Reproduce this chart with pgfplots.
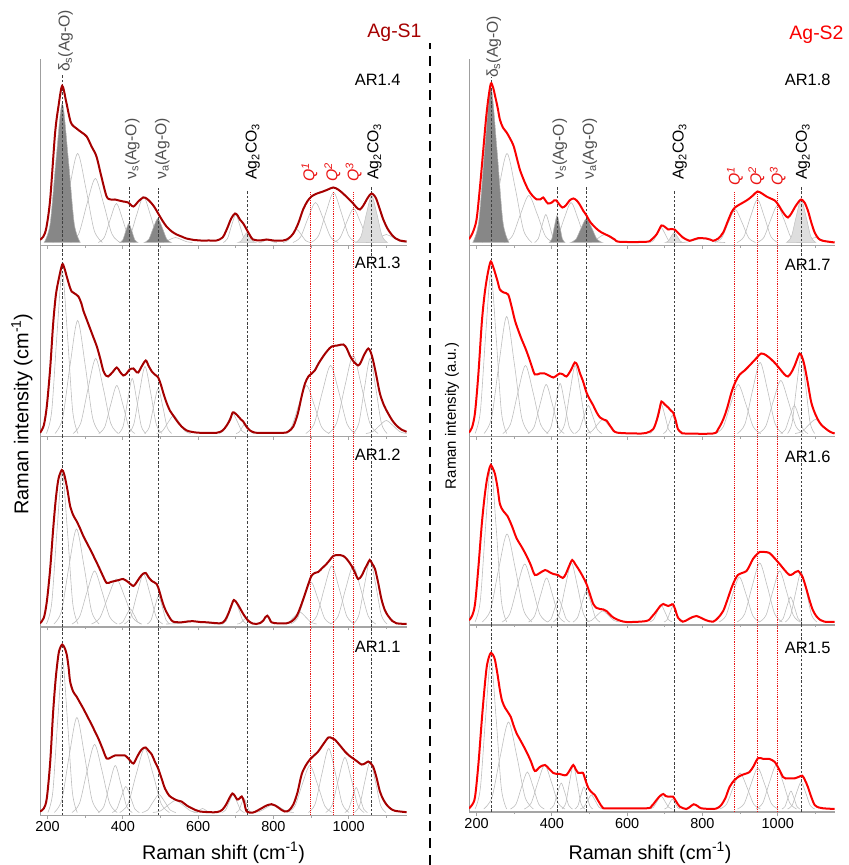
\documentclass[border=0pt]{standalone}
\usepackage{fontspec}
\setmainfont{Liberation Sans}
\usepackage{pgfplots}
\pgfplotsset{compat=1.18}
\definecolor{sone}{RGB}{165,0,0}
\definecolor{stwo}{RGB}{250,0,0}
\definecolor{compc}{RGB}{190,190,190}
\definecolor{darkf}{RGB}{135,135,135}
\definecolor{lightf}{RGB}{222,222,222}
\definecolor{annot}{RGB}{80,80,80}
\definecolor{qred}{RGB}{235,20,20}
\definecolor{axc}{RGB}{165,165,165}
\tikzset{
 vl/.style={draw=black!75, line width=0.6bp, dash pattern=on 2.5bp off 1.8bp},
 ql/.style={draw=qred, line width=0.6bp, dash pattern=on 1.2bp off 1bp},
 ann/.style={rotate=90, anchor=west, inner sep=0.5bp, font=\fontsize{15.8}{18}\selectfont},
}
\pgfplotsset{
 panel/.style={scale only axis, anchor=south west, axis x line*=bottom, axis y line*=left,
  xmin=180, ymin=-3, ytick=\empty, xtick={200,400,600,800,1000}, minor xtick={300,500,700,900,1100},
  tick align=outside, major tick length=3.5bp, minor tick length=2.2bp, xticklabels={},
  x axis line style={draw=axc, line width=1.3bp, -}, y axis line style={draw=gray!75, line width=0.7bp, -},
  tick style={draw=axc, line width=0.7bp}, clip mode=individual},
 bottompanel/.style={xticklabels={200,400,600,800,1000}, xticklabel style={font=\fontsize{14.5}{16}\selectfont, inner sep=2.5bp}},
 comp/.style={draw=compc, line width=0.6bp, smooth, no markers},
 dfill/.style={fill=darkf, draw=gray!60, line width=0.5bp, smooth, no markers},
 lfill/.style={fill=lightf, draw=gray!50, line width=0.5bp, smooth, no markers},
 envA/.style={draw=sone, line width=2bp, smooth, tension=0.5, no markers},
 envB/.style={draw=stwo, line width=2bp, smooth, tension=0.5, no markers},
}
\newcommand{\C}[1]{\addplot[comp] coordinates {#1};}
\newcommand{\LV}[1]{%
 \draw[vl] (axis cs:239,-3) -- (axis cs:239,#1);
 \draw[vl] (axis cs:416,-3) -- (axis cs:416,#1);
 \draw[vl] (axis cs:493,-3) -- (axis cs:493,#1);
 \draw[vl] (axis cs:730,-3) -- (axis cs:730,#1);
 \draw[vl] (axis cs:1061,-3) -- (axis cs:1061,#1);
 \draw[ql] (axis cs:897,-3) -- (axis cs:897,#1);
 \draw[ql] (axis cs:959,-3) -- (axis cs:959,#1);
 \draw[ql] (axis cs:1013,-3) -- (axis cs:1013,#1);}
\newcommand{\RV}[1]{%
 \draw[vl] (axis cs:238,-3) -- (axis cs:238,#1);
 \draw[vl] (axis cs:415,-3) -- (axis cs:415,#1);
 \draw[vl] (axis cs:492,-3) -- (axis cs:492,#1);
 \draw[vl] (axis cs:725,-3) -- (axis cs:725,#1);
 \draw[vl] (axis cs:1062,-3) -- (axis cs:1062,#1);
 \draw[ql] (axis cs:884,-3) -- (axis cs:884,#1);
 \draw[ql] (axis cs:946,-3) -- (axis cs:946,#1);
 \draw[ql] (axis cs:999,-3) -- (axis cs:999,#1);}
\begin{document}
\begin{tikzpicture}
\path[use as bounding box] (0,0) rectangle (849bp,865bp);
% ================= LEFT COLUMN (Ag-S1) =================
% AR1.4
\begin{axis}[panel, at={(40bp,619.5bp)}, width=367bp, height=186.5bp, xmax=1155, ymax=183.5]
\C{(214,0)(236,12)(258,54)(280,89)(302,54)(324,12)(346,0)}
\C{(261,0)(283,8.6)(305,38.8)(327,64)(349,38.8)(371,8.6)(393,0)}
\C{(335,0)(351,5.3)(367,23.7)(383,39)(399,23.7)(415,5.3)(431,0)}
\C{(401,0)(419,6.2)(437,27.9)(455,46)(473,27.9)(491,6.2)(509,0)}
\C{(495,0)(510,0.7)(525,3)(540,5)(555,3)(570,0.7)(585,0)}
\C{(667,0)(678,3.8)(689,17)(700,28)(711,17)(722,3.8)(733,0)}
\C{(761,0)(769,0.4)(777,1.8)(785,3)(793,1.8)(801,0.4)(809,0)}
\C{(826,0)(838,1.8)(850,7.9)(862,13)(874,7.9)(886,1.8)(898,0)}
\C{(852,0)(872,5.4)(892,24.3)(912,40)(932,24.3)(952,5.4)(972,0)}
\C{(900,0)(920,6.8)(940,30.4)(960,50)(980,30.4)(1000,6.8)(1020,0)}
\C{(959,0)(977,4.6)(995,20.6)(1013,34)(1031,20.6)(1049,4.6)(1067,0)}
\C{(1046,0)(1064,1.1)(1082,4.9)(1100,8)(1118,4.9)(1136,1.1)(1154,0)}
\addplot[dfill] coordinates {(191,0)(207,18.8)(223,84.4)(239,139)(255,84.4)(271,18.8)(287,0)} \closedcycle;
\addplot[dfill] coordinates {(392,0)(400,2.6)(408,11.5)(416,19)(424,11.5)(432,2.6)(440,0)} \closedcycle;
\addplot[dfill] coordinates {(457,0)(469,3.2)(481,14.6)(493,24)(505,14.6)(517,3.2)(529,0)} \closedcycle;
\addplot[lfill] coordinates {(706,0)(714,1.4)(722,6.1)(730,10)(738,6.1)(746,1.4)(754,0)} \closedcycle;
\addplot[lfill] coordinates {(1019,0)(1033,6.3)(1047,28.5)(1061,47)(1075,28.5)(1089,6.3)(1103,0)} \closedcycle;
\draw[vl] (axis cs:239,-3) -- (axis cs:239,168);
\draw[vl] (axis cs:416,-3) -- (axis cs:416,55);
\draw[vl] (axis cs:493,-3) -- (axis cs:493,54);
\draw[vl] (axis cs:730,-3) -- (axis cs:730,51);
\draw[vl] (axis cs:1061,-3) -- (axis cs:1061,56);
\draw[ql] (axis cs:897,-3) -- (axis cs:897,50);
\draw[ql] (axis cs:959,-3) -- (axis cs:959,50);
\draw[ql] (axis cs:1013,-3) -- (axis cs:1013,50);
\addplot[envA] coordinates {(180,2.7)(189,6)(197,15)(207,43)(220,109)(229,136)(239,156.7)(250,140)(262,120)(277,114)(291,110)(304,106)(317,96)(330,86)(343,66)(357,46)(368,43)(379,43)(390,42)(401,41)(414,40)(428,36)(441,41)(454,45)(463,44)(472,41)(483,36)(494,29)(505,22)(516,16)(530,11)(543,8)(556,6)(569,4)(590,2.5)(605,2)(630,2)(649,2)(665,5)(676,13)(688,24)(698,29)(705,27)(711,23)(720,19)(729,13)(738,7)(746,3)(765,2)(782,3)(800,2)(826,2)(840,4)(853,9)(866,19)(879,33)(890,41)(901,46)(916,49)(932,51)(945,53)(959,55)(972,53)(985,49)(999,44)(1012,39)(1021,35)(1030,33)(1039,37)(1048,43)(1055,47)(1061,49)(1068,47)(1074,43)(1083,33)(1092,23)(1103,14)(1114,8)(1125,4)(1136,2)(1154,1)};
\node[ann, text=annot] at (axis cs:248,170) {δ\textsubscript{s}(Ag-O)};
\node[ann, text=annot] at (axis cs:425,62) {ν\textsubscript{s}(Ag-O)};
\node[ann, text=annot] at (axis cs:505,62) {ν\textsubscript{a}(Ag-O)};
\node[ann] at (axis cs:745,62) {Ag\textsubscript{2}CO\textsubscript{3}};
\node[ann] at (axis cs:1069,62) {Ag\textsubscript{2}CO\textsubscript{3}};
\node[ann, text=qred] at (axis cs:896,60) {\textit{Q}\textsuperscript{\textit{1}}};
\node[ann, text=qred] at (axis cs:957,60) {\textit{Q}\textsuperscript{\textit{2}}};
\node[ann, text=qred] at (axis cs:1013,60) {\textit{Q}\textsuperscript{\textit{3}}};
\end{axis}
% AR1.3
\begin{axis}[panel, at={(40bp,428.5bp)}, width=367bp, height=191bp, xmax=1155, ymax=188]
\C{(197,0)(211,21.9)(225,98.3)(239,162)(253,98.3)(267,21.9)(281,0)}
\C{(220,0)(240,15.3)(260,68.6)(280,113)(300,68.6)(320,15.3)(340,0)}
\C{(268,0)(288,10.1)(308,45.5)(328,75)(348,45.5)(368,10.1)(388,0)}
\C{(336,0)(352,6.5)(368,29.1)(384,48)(400,29.1)(416,6.5)(432,0)}
\C{(389,0)(401,7.4)(413,33.4)(425,55)(437,33.4)(449,7.4)(461,0)}
\C{(414,0)(429,9)(444,40.7)(459,67)(474,40.7)(489,9)(504,0)}
\C{(458,0)(470,6.1)(482,27.3)(494,45)(506,27.3)(518,6.1)(530,0)}
\C{(490,0)(505,2.4)(520,10.9)(535,18)(550,10.9)(565,2.4)(580,0)}
\C{(656,0)(668,2.7)(680,12.1)(692,20)(704,12.1)(716,2.7)(728,0)}
\C{(701,0)(709,1.4)(717,6.1)(725,10)(733,6.1)(741,1.4)(749,0)}
\C{(828,0)(848,6.5)(868,29.1)(888,48)(908,29.1)(928,6.5)(948,0)}
\C{(886,0)(908,9.2)(930,41.3)(952,68)(974,41.3)(996,9.2)(1018,0)}
\C{(946,0)(968,10.5)(990,47.3)(1012,78)(1034,47.3)(1056,10.5)(1078,0)}
\C{(1012,0)(1027,10.1)(1042,45.5)(1057,75)(1072,45.5)(1087,10.1)(1102,0)}
\C{(1046,0)(1064,1.8)(1082,7.9)(1100,13)(1118,7.9)(1136,1.8)(1154,0)}
\LV{188}
\addplot[envA] coordinates {(180,0.7)(190,8)(198,27)(207,65)(215,110)(222,138)(229,153)(239,169)(245,165)(251,157)(258,148)(264,142)(272,140)(282,137)(290,130)(295,123)(304,114)(313,105)(322,96)(331,87)(340,75)(348,63)(355,58)(361,57)(372,61)(384,66)(392,62)(401,58)(410,60)(418,64)(428,65)(435,62)(441,61)(450,67)(461,73)(468,68)(477,62)(485,59)(494,56)(501,49)(508,40)(516,31)(525,23)(534,18)(543,13)(556,7)(570,3)(585,1.5)(605,0.7)(649,0.7)(665,3)(676,8)(685,14)(692,21)(699,20)(707,17)(714,14)(720,12)(728,7)(738,3)(750,1)(764,0.7)(826,0.7)(840,2)(853,7)(865,20)(875,37)(884,50)(893,57)(902,60)(910,63)(920,70)(932,77)(944,83)(955,87)(970,88)(986,89)(995,85)(1003,78)(1013,72)(1025,68)(1032,71)(1039,77)(1046,82)(1052,85)(1058,82)(1065,73)(1074,57)(1083,40)(1094,28)(1105,20)(1116,13)(1127,8)(1140,4)(1154,1.7)};
\end{axis}
% AR1.2
\begin{axis}[panel, at={(40bp,238bp)}, width=367bp, height=190.5bp, xmax=1155, ymax=187.5]
\C{(197,0)(211,20.5)(225,92.3)(239,152)(253,92.3)(267,20.5)(281,0)}
\C{(217,0)(237,12.8)(257,57.7)(277,95)(297,57.7)(317,12.8)(337,0)}
\C{(265,0)(285,7.2)(305,32.2)(325,53)(345,32.2)(365,7.2)(385,0)}
\C{(317,0)(339,6.1)(361,27.3)(383,45)(405,27.3)(427,6.1)(449,0)}
\C{(390,0)(400,2)(410,9.1)(420,15)(430,9.1)(440,2)(450,0)}
\C{(404,0)(421,6.8)(438,30.4)(455,50)(472,30.4)(489,6.8)(506,0)}
\C{(465,0)(475,3.8)(485,17)(495,28)(505,17)(515,3.8)(525,0)}
\C{(515,0)(540,0.3)(565,1.5)(590,2.5)(615,1.5)(640,0.3)(665,0)}
\C{(664,0)(675,3.2)(686,14.6)(697,24)(708,14.6)(719,3.2)(730,0)}
\C{(704,0)(712,0.8)(720,3.6)(728,6)(736,3.6)(744,0.8)(752,0)}
\C{(762,0)(769,1.1)(776,4.9)(783,8)(790,4.9)(797,1.1)(804,0)}
\C{(825,0)(840,1.6)(855,7.3)(870,12)(885,7.3)(900,1.6)(915,0)}
\C{(846,0)(864,5.7)(882,25.5)(900,42)(918,25.5)(936,5.7)(954,0)}
\C{(895,0)(915,7.8)(935,35.2)(955,58)(975,35.2)(995,7.8)(1015,0)}
\C{(952,0)(972,7.8)(992,35.2)(1012,58)(1032,35.2)(1052,7.8)(1072,0)}
\C{(1012,0)(1027,8.6)(1042,38.8)(1057,64)(1072,38.8)(1087,8.6)(1102,0)}
\LV{187.5}
\addplot[envA] coordinates {(180,0.7)(190,6)(198,22)(207,55)(215,95)(222,125)(229,145)(238,154)(244,150)(251,138)(256,127)(260,118)(268,109)(277,103)(286,96)(295,88)(306,80)(317,72)(326,65)(335,58)(346,49)(357,41)(368,42)(379,43)(390,44)(401,45)(414,42)(428,38)(437,42)(446,47)(453,50)(461,51)(468,47)(477,43)(490,40)(497,33)(503,25)(510,17)(516,12)(525,6)(534,2.3)(556,1.7)(572,2.5)(587,2.8)(605,2)(623,1.7)(658,0.7)(670,3)(680,10)(688,18)(695,24)(703,21)(711,16)(720,10)(733,3.3)(745,0.5)(755,0)(765,1)(773,3.3)(779,7)(784,8.3)(790,5)(795,1.7)(810,0.7)(835,0.7)(850,3)(862,8)(873,18)(884,30)(893,40)(901,48)(910,51)(919,52)(930,56)(941,60)(950,64)(959,68)(972,69)(986,68)(997,64)(1008,58)(1016,52)(1025,45)(1034,48)(1043,55)(1050,60)(1056,64)(1063,60)(1070,55)(1078,42)(1087,25)(1096,14)(1105,8)(1116,3)(1127,0.7)(1154,0)};
\end{axis}
% AR1.1
\begin{axis}[panel, bottompanel, at={(40bp,49.5bp)}, width=367bp, height=188.5bp, xmax=1155, ymax=185.5]
\C{(201,0)(214,20.4)(227,91.7)(240,151)(253,91.7)(266,20.4)(279,0)}
\C{(218,0)(238,12.8)(258,57.7)(278,95)(298,57.7)(318,12.8)(338,0)}
\C{(265,0)(285,9.2)(305,41.3)(325,68)(345,41.3)(365,9.2)(385,0)}
\C{(335,0)(350,6.3)(365,28.5)(380,47)(395,28.5)(410,6.3)(425,0)}
\C{(372,0)(384,3.5)(396,15.8)(408,26)(420,15.8)(432,3.5)(444,0)}
\C{(392,0)(414,8.6)(436,38.8)(458,64)(480,38.8)(502,8.6)(524,0)}
\C{(451,0)(466,2.4)(481,10.9)(496,18)(511,10.9)(526,2.4)(541,0)}
\C{(480,0)(500,1.6)(520,7.3)(540,12)(560,7.3)(580,1.6)(600,0)}
\C{(588,0)(596,0.5)(604,2.4)(612,4)(620,2.4)(628,0.5)(636,0)}
\C{(663,0)(673,2.4)(683,10.9)(693,18)(703,10.9)(713,2.4)(723,0)}
\C{(701,0)(708,1.9)(715,8.5)(722,14)(729,8.5)(736,1.9)(743,0)}
\C{(746,0)(764,1.1)(782,4.9)(800,8)(818,4.9)(836,1.1)(854,0)}
\C{(837,0)(857,6.3)(877,28.5)(897,47)(917,28.5)(937,6.3)(957,0)}
\C{(893,0)(911,8.6)(929,38.8)(947,64)(965,38.8)(983,8.6)(1001,0)}
\C{(939,0)(956,7.4)(973,33.4)(990,55)(1007,33.4)(1024,7.4)(1041,0)}
\C{(990,0)(1000,3.4)(1010,15.2)(1020,25)(1030,15.2)(1040,3.4)(1050,0)}
\C{(1015,0)(1029,6.9)(1043,31)(1057,51)(1071,31)(1085,6.9)(1099,0)}
\LV{185.5}
\addplot[envA] coordinates {(180,1)(190,4)(198,14)(207,50)(215,101)(222,135)(229,158)(234,165)(239,168)(245,165)(251,158)(256,145)(260,131)(268,121)(277,116)(286,110)(295,104)(306,96)(317,88)(326,81)(335,74)(346,64)(357,54)(368,55)(379,57)(392,57)(406,57)(417,53)(428,49)(437,55)(446,61)(453,64)(461,65)(468,62)(477,58)(485,51)(494,44)(503,34)(512,24)(523,17)(534,14)(545,12)(556,11)(570,7)(583,4.3)(605,1)(649,0.3)(665,3)(676,9)(684,15)(691,19)(697,17)(704,13)(710,14)(716,16)(722,11)(729,1)(746,0)(758,2)(769,4.3)(782,7)(795,8.3)(805,7)(813,5)(822,2.5)(830,1)(841,2)(853,8)(864,20)(875,38)(886,47)(897,53)(908,57)(919,61)(932,68)(946,75)(955,74.5)(963,73)(977,67)(990,61)(1001,57)(1012,54)(1023,51)(1034,48)(1043,49)(1052,51)(1059,49)(1065,46)(1074,35)(1083,21)(1092,13)(1101,7.7)(1111,4)(1123,1.7)(1154,0.3)};
\end{axis}
% ================= RIGHT COLUMN (Ag-S2) =================
% AR1.8
\begin{axis}[panel, at={(469bp,619.5bp)}, width=366bp, height=186.5bp, xmax=1152, ymax=183.5]
\C{(215,0)(237,12)(259,54)(281,89)(303,54)(325,12)(347,0)}
\C{(273,0)(295,6.3)(317,28.5)(339,47)(361,28.5)(383,6.3)(405,0)}
\C{(354,0)(364,3.8)(374,17)(384,28)(394,17)(404,3.8)(414,0)}
\C{(397,0)(415,5.4)(433,24.3)(451,40)(469,24.3)(487,5.4)(505,0)}
\C{(495,0)(510,1.1)(525,4.9)(540,8)(555,4.9)(570,1.1)(585,0)}
\C{(660,0)(670,2)(680,9.1)(690,15)(700,9.1)(710,2)(720,0)}
\C{(740,0)(760,0.5)(780,2.4)(800,4)(820,2.4)(840,0.5)(860,0)}
\C{(833,0)(851,4.5)(869,20)(887,33)(905,20)(923,4.5)(941,0)}
\C{(892,0)(910,5.8)(928,26.1)(946,43)(964,26.1)(982,5.8)(1000,0)}
\C{(945,0)(963,5)(981,22.5)(999,37)(1017,22.5)(1035,5)(1053,0)}
\C{(1055,0)(1070,0.7)(1085,3)(1100,5)(1115,3)(1130,0.7)(1145,0)}
\addplot[dfill] coordinates {(190,0)(206,20.9)(222,94.1)(238,155)(254,94.1)(270,20.9)(286,0)} \closedcycle;
\addplot[dfill] coordinates {(393,0)(400,3.6)(407,16.4)(414,27)(421,16.4)(428,3.6)(435,0)} \closedcycle;
\addplot[dfill] coordinates {(450,0)(464,3.2)(478,14.6)(492,24)(506,14.6)(520,3.2)(534,0)} \closedcycle;
\addplot[lfill] coordinates {(701,0)(709,1.4)(717,6.1)(725,10)(733,6.1)(741,1.4)(749,0)} \closedcycle;
\addplot[lfill] coordinates {(1023,0)(1036,5.8)(1049,26.1)(1062,43)(1075,26.1)(1088,5.8)(1101,0)} \closedcycle;
\draw[vl] (axis cs:238,-3) -- (axis cs:238,165);
\draw[vl] (axis cs:415,-3) -- (axis cs:415,57);
\draw[vl] (axis cs:492,-3) -- (axis cs:492,55);
\draw[vl] (axis cs:725,-3) -- (axis cs:725,51);
\draw[vl] (axis cs:1062,-3) -- (axis cs:1062,55);
\draw[ql] (axis cs:884,-3) -- (axis cs:884,50);
\draw[ql] (axis cs:946,-3) -- (axis cs:946,50);
\draw[ql] (axis cs:999,-3) -- (axis cs:999,50);
\addplot[envB] coordinates {(180,3.3)(190,10)(200,23)(209,55)(218,93)(225,123)(231,143)(238,159)(244,155)(249,147)(256,135)(262,123)(270,115)(280,110)(289,104)(298,97)(306,86)(315,73)(326,62)(337,53)(348,47)(360,43)(369,43)(377,45)(383,42)(390,39)(400,40)(406,42)(412,42)(420,38)(428,35)(437,37)(447,42)(457,44)(466,42)(474,38)(483,32)(492,27)(501,21)(510,17)(521,13)(532,10)(543,8)(554,6)(567,3)(580,0.7)(651,0.7)(665,3)(678,8)(685,13)(691,17)(699,16)(709,13)(718,13.5)(726,13)(737,9)(748,5)(757,3)(766,1.7)(777,3)(788,4.3)(800,4.3)(810,4)(820,3)(828,1.7)(842,4)(855,10)(866,20)(877,30)(886,35)(894,37)(908,40)(921,43)(934,47)(946,51)(958,49)(970,46)(981,44)(992,42)(1001,38)(1009,33)(1018,28)(1027,25)(1036,29)(1045,35)(1054,40)(1062,43)(1071,40)(1080,32)(1089,20)(1098,10)(1108,4)(1120,1.7)(1151,0)};
\node[ann, text=annot] at (axis cs:246,164) {δ\textsubscript{s}(Ag-O)};
\node[ann, text=annot] at (axis cs:421,62) {ν\textsubscript{s}(Ag-O)};
\node[ann, text=annot] at (axis cs:501,62) {ν\textsubscript{a}(Ag-O)};
\node[ann] at (axis cs:740,62) {Ag\textsubscript{2}CO\textsubscript{3}};
\node[ann] at (axis cs:1067,62) {Ag\textsubscript{2}CO\textsubscript{3}};
\node[ann, text=qred] at (axis cs:886,56) {\textit{Q}\textsuperscript{\textit{1}}};
\node[ann, text=qred] at (axis cs:943,56) {\textit{Q}\textsuperscript{\textit{2}}};
\node[ann, text=qred] at (axis cs:1000,56) {\textit{Q}\textsuperscript{\textit{3}}};
\end{axis}
% AR1.7
\begin{axis}[panel, at={(469bp,428.5bp)}, width=366bp, height=191bp, xmax=1152, ymax=188]
\C{(196,0)(210,21.6)(224,97.1)(238,160)(252,97.1)(266,21.6)(280,0)}
\C{(220,0)(240,15.8)(260,71)(280,117)(300,71)(320,15.8)(340,0)}
\C{(270,0)(290,9.2)(310,41.3)(330,68)(350,41.3)(370,9.2)(390,0)}
\C{(337,0)(353,6.6)(369,29.7)(385,49)(401,29.7)(417,6.6)(433,0)}
\C{(386,0)(398,6.8)(410,30.4)(422,50)(434,30.4)(446,6.8)(458,0)}
\C{(420,0)(434,9.2)(448,41.3)(462,68)(476,41.3)(490,9.2)(504,0)}
\C{(461,0)(473,3.8)(485,17)(497,28)(509,17)(521,3.8)(533,0)}
\C{(490,0)(505,1.9)(520,8.5)(535,14)(550,8.5)(565,1.9)(580,0)}
\C{(660,0)(670,4)(680,18.2)(690,30)(700,18.2)(710,4)(720,0)}
\C{(696,0)(704,2.4)(712,10.9)(720,18)(728,10.9)(736,2.4)(744,0)}
\C{(835,0)(855,6.6)(875,29.7)(895,49)(915,29.7)(935,6.6)(955,0)}
\C{(893,0)(913,9.6)(933,43.1)(953,71)(973,43.1)(993,9.6)(1013,0)}
\C{(948,0)(968,7.2)(988,32.2)(1008,53)(1028,32.2)(1048,7.2)(1068,0)}
\C{(1008,0)(1020,3.8)(1032,17)(1044,28)(1056,17)(1068,3.8)(1080,0)}
\C{(1026,0)(1038,10.5)(1050,47.3)(1062,78)(1074,47.3)(1086,10.5)(1098,0)}
\C{(1046,0)(1064,1.9)(1082,8.5)(1100,14)(1118,8.5)(1136,1.9)(1150,0.2)}
\RV{188}
\addplot[envB] coordinates {(180,1)(188,6)(196,21)(205,60)(214,111)(221,138)(227,154)(233,166)(238,172)(244,167)(249,161)(256,152)(262,144)(272,141)(284,139)(293,127)(302,113)(311,103)(320,94)(329,86)(337,78)(346,68)(355,59)(368,60)(381,60)(392,58)(404,56)(413,58)(421,60)(430,59)(439,57)(450,63)(461,71)(468,68)(474,61)(483,52)(492,41)(501,34)(510,28)(519,21)(528,16)(537,14)(545,13)(558,6)(572,1)(625,0)(650,0.5)(669,4.3)(680,15)(687,26)(691,32)(700,29)(709,26)(716,23)(722,21)(729,13)(735,4.3)(744,1)(753,0)(828,0)(841,4)(855,14)(866,26)(877,41)(888,52)(899,59)(912,63)(925,68)(940,74)(956,80)(970,78)(983,74)(996,69)(1009,63)(1018,59)(1027,57)(1036,61)(1045,68)(1051,74)(1058,80)(1064,77)(1071,68)(1080,50)(1089,31)(1100,19)(1111,11)(1120,7)(1129,4.3)(1140,1.5)(1151,0)};
\end{axis}
% AR1.6
\begin{axis}[panel, at={(469bp,240bp)}, width=366bp, height=188.5bp, xmax=1152, ymax=185.5]
\C{(196,0)(210,21.2)(224,95.3)(238,157)(252,95.3)(266,21.2)(280,0)}
\C{(215,0)(237,11.9)(259,53.4)(281,88)(303,53.4)(325,11.9)(347,0)}
\C{(268,0)(288,7.8)(308,35.2)(328,58)(348,35.2)(368,7.8)(388,0)}
\C{(338,0)(354,5.9)(370,26.7)(386,44)(402,26.7)(418,5.9)(434,0)}
\C{(388,0)(398,3.1)(408,14)(418,23)(428,14)(438,3.1)(448,0)}
\C{(404,0)(420,8)(436,35.8)(452,59)(468,35.8)(484,8)(500,0)}
\C{(456,0)(468,4.2)(480,18.8)(492,31)(504,18.8)(516,4.2)(528,0)}
\C{(490,0)(505,1.5)(520,6.7)(535,11)(550,6.7)(565,1.5)(580,0)}
\C{(660,0)(670,2.3)(680,10.3)(690,17)(700,10.3)(710,2.3)(720,0)}
\C{(698,0)(706,2.2)(714,9.7)(722,16)(730,9.7)(738,2.2)(746,0)}
\C{(740,0)(755,0.8)(770,3.6)(785,6)(800,3.6)(815,0.8)(830,0)}
\C{(844,0)(862,6.1)(880,27.3)(898,45)(916,27.3)(934,6.1)(952,0)}
\C{(892,0)(912,8)(932,35.8)(952,59)(972,35.8)(992,8)(1012,0)}
\C{(951,0)(969,6.9)(987,31)(1005,51)(1023,31)(1041,6.9)(1059,0)}
\C{(1004,0)(1014,3.4)(1024,15.2)(1034,25)(1044,15.2)(1054,3.4)(1064,0)}
\C{(1020,0)(1034,6.8)(1048,30.4)(1062,50)(1076,30.4)(1090,6.8)(1104,0)}
\RV{185.5}
\addplot[envB] coordinates {(180,1.7)(188,6)(196,18)(205,55)(214,98)(221,124)(227,141)(233,152)(238,157)(244,153)(249,148)(256,134)(262,118)(271,111)(282,106)(294,96)(306,84)(320,75)(333,66)(344,57)(355,47)(368,49)(382,52)(393,50)(404,48)(416,47)(429,44)(437,48)(446,56)(454,62)(462,58)(474,51)(483,45)(492,38)(501,28)(510,18)(519,14)(528,13)(537,12.5)(545,11)(558,6)(572,2.7)(598,0)(651,1)(665,5)(678,11)(688,16)(696,18)(702,17)(709,16)(716,17)(722,17.7)(729,11)(735,4.3)(748,0.3)(762,2.7)(774,5)(784,6)(797,4)(810,1.7)(828,0.3)(841,4)(855,11)(866,22)(877,34)(886,42)(894,47)(905,49)(917,51)(926,57)(934,63)(943,67)(952,70)(965,70)(978,69)(991,64)(1005,58)(1018,52)(1031,47)(1040,48)(1047,50)(1054,51)(1061,48)(1067,44)(1076,33)(1085,21)(1093,12)(1102,6)(1113,2)(1124,0.3)(1151,0)};
\end{axis}
% AR1.5
\begin{axis}[panel, bottompanel, at={(469bp,53bp)}, width=366bp, height=187bp, xmax=1152, ymax=184]
\C{(196,0)(210,20.3)(224,91)(238,150)(252,91)(266,20.3)(280,0)}
\C{(219,0)(241,11.7)(263,52.8)(285,87)(307,52.8)(329,11.7)(351,0)}
\C{(290,0)(305,5)(320,22.5)(335,37)(350,22.5)(365,5)(380,0)}
\C{(327,0)(345,5.9)(363,26.7)(381,44)(399,26.7)(417,5.9)(435,0)}
\C{(395,0)(405,3.5)(415,15.8)(425,26)(435,15.8)(445,3.5)(455,0)}
\C{(427,0)(437,5.9)(447,26.7)(457,44)(467,26.7)(477,5.9)(487,0)}
\C{(461,0)(469,3)(477,13.4)(485,22)(493,13.4)(501,3)(509,0)}
\C{(475,0)(485,1.9)(495,8.5)(505,14)(515,8.5)(525,1.9)(535,0)}
\C{(660,0)(670,1.8)(680,7.9)(690,13)(700,7.9)(710,1.8)(720,0)}
\C{(699,0)(706,1.4)(713,6.1)(720,10)(727,6.1)(734,1.4)(741,0)}
\C{(747,0)(757,0.6)(767,2.7)(777,4.5)(787,2.7)(797,0.6)(807,0)}
\C{(846,0)(864,4.9)(882,21.9)(900,36)(918,21.9)(936,4.9)(954,0)}
\C{(893,0)(911,5.5)(929,24.9)(947,41)(965,24.9)(983,5.5)(1001,0)}
\C{(942,0)(960,5.9)(978,26.7)(996,44)(1014,26.7)(1032,5.9)(1050,0)}
\C{(1011,0)(1019,2.4)(1027,10.9)(1035,18)(1043,10.9)(1051,2.4)(1059,0)}
\C{(1026,0)(1038,3.6)(1050,16.4)(1062,27)(1074,16.4)(1086,3.6)(1098,0)}
\RV{184}
\addplot[envB] coordinates {(180,0.7)(188,4)(196,12)(205,45)(214,89)(221,120)(227,142)(233,152)(238,156)(244,154)(249,149)(256,134)(262,119)(268,108)(276,101)(283,97)(291,92)(298,84)(306,76)(319,67)(333,57)(344,48)(355,38)(368,42)(382,44)(393,40)(404,36)(413,35)(421,35)(430,34)(439,34)(448,39)(457,44)(463,40)(470,36)(477,36)(483,36)(490,28)(497,21)(505,17)(514,14)(525,7)(536,1)(550,0.7)(651,0.7)(665,3)(678,9)(687,13)(696,15)(702,13)(709,12.3)(716,12.5)(722,12.3)(731,7)(740,2.3)(757,0)(768,2.5)(777,4.7)(787,3)(797,0.7)(828,0)(840,1)(850,4)(861,11)(872,22)(885,29)(899,33)(912,35)(925,37)(936,43)(948,51)(962,50)(978,50)(992,47)(1003,40)(1014,32)(1021,30.5)(1027,30.7)(1036,30.7)(1045,30.7)(1055,32)(1065,33.3)(1072,29)(1080,22)(1089,12)(1098,4)(1109,1.5)(1120,0.7)(1151,0)};
\end{axis}
% ================= TEXT AND DIVIDER =================
\draw[line width=2bp, dash pattern=on 10bp off 7bp] (430bp,0bp) -- (430bp,822bp);
\node[anchor=east, text=sone, font=\fontsize{19.5}{22}\selectfont] at (425bp,832.3bp) {Ag-S1};
\node[anchor=east, text=stwo, font=\fontsize{19.5}{22}\selectfont] at (847bp,830bp) {Ag-S2};
\begin{scope}[every node/.style={anchor=east, font=\fontsize{16.5}{19}\selectfont}]
\node at (404bp,785bp) {AR1.4};
\node at (404bp,602bp) {AR1.3};
\node at (404bp,410bp) {AR1.2};
\node at (404bp,218bp) {AR1.1};
\node at (834bp,785bp) {AR1.8};
\node at (834bp,600bp) {AR1.7};
\node at (834bp,408bp) {AR1.6};
\node at (834bp,217bp) {AR1.5};
\end{scope}
\node[rotate=90, font=\fontsize{20}{23}\selectfont] at (22bp,451bp) {Raman intensity (cm\textsuperscript{-1})};
\node[rotate=90, font=\fontsize{15}{18}\selectfont] at (452bp,449bp) {Raman intensity (a.u.)};
\node[font=\fontsize{19.8}{23}\selectfont] at (223.5bp,12bp) {Raman shift (cm\textsuperscript{-1})};
\node[font=\fontsize{19.8}{23}\selectfont] at (650bp,12bp) {Raman shift (cm\textsuperscript{-1})};
\end{tikzpicture}
\end{document}
